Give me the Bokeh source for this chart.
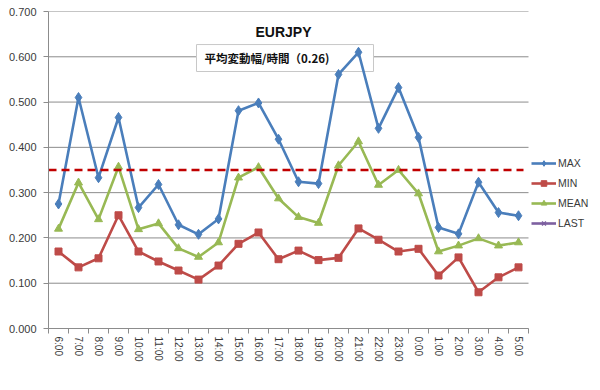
from bokeh.plotting import figure
from bokeh.models import (Range1d, FixedTicker, NumeralTickFormatter, Label,
                          Legend, LegendItem)
from bokeh.embed import file_html
from bokeh.resources import INLINE

# ---------------- data ----------------
hours = ["6:00", "7:00", "8:00", "9:00", "10:00", "11:00", "12:00", "13:00",
         "14:00", "15:00", "16:00", "17:00", "18:00", "19:00", "20:00", "21:00",
         "22:00", "23:00", "0:00", "1:00", "2:00", "3:00", "4:00", "5:00"]
max_vals = [0.275, 0.510, 0.333, 0.466, 0.267, 0.318, 0.229, 0.208,
            0.242, 0.481, 0.498, 0.418, 0.324, 0.320, 0.561, 0.610,
            0.442, 0.532, 0.422, 0.223, 0.209, 0.323, 0.256, 0.249]
min_vals = [0.170, 0.135, 0.155, 0.250, 0.170, 0.148, 0.128, 0.108,
            0.139, 0.187, 0.212, 0.153, 0.172, 0.151, 0.156, 0.221,
            0.196, 0.170, 0.176, 0.117, 0.157, 0.080, 0.113, 0.135]
mean_vals = [0.220, 0.322, 0.241, 0.357, 0.219, 0.232, 0.177, 0.158,
             0.190, 0.333, 0.356, 0.287, 0.246, 0.233, 0.360, 0.413,
             0.317, 0.350, 0.298, 0.170, 0.183, 0.199, 0.183, 0.190]
# LAST series has no values (blank cells) - it only appears in the legend
last_vals = [float("nan")] * len(hours)
threshold = 0.35
y_ticks = [0.0, 0.1, 0.2, 0.3, 0.4, 0.5, 0.6, 0.7]
chart_title = "EURJPY"
subtitle = "平均変動幅/時間（0.26)"

BLUE = "#4A7EBB"
RED = "#BE4B48"
GREEN = "#98B954"
PURPLE = "#7D60A0"
DASH_RED = "#C00000"
GRID = "#8C8C8C"
TEXT = "#3A3A3A"

n = len(hours)
# category slots: each hour occupies one unit, its centre at i + 0.5
xpos = [i + 0.5 for i in range(n)]

# the frame also holds the legend area to the right of the plot area
p = figure(width=592, height=382,
           x_range=Range1d(0, n * 544 / 480),
           y_range=Range1d(0, 0.7),
           output_backend="svg", toolbar_location=None,
           min_border_left=48, min_border_right=0,
           min_border_top=11, min_border_bottom=54)
p.outline_line_color = None
p.background_fill_color = "white"
p.border_fill_color = "white"

xaxis = p.xaxis[0]
xaxis.bounds = (0, n)
xaxis.ticker = FixedTicker(ticks=xpos, minor_ticks=list(range(n + 1)))
xaxis.major_label_overrides = {x: h for x, h in zip(xpos, hours)}
xaxis.major_label_orientation = "vertical"
xaxis.major_tick_line_color = None
xaxis.major_tick_out = 4
xaxis.major_tick_in = 0
xaxis.minor_tick_out = 5
xaxis.minor_tick_in = 0
xaxis.minor_tick_line_color = GRID
xaxis.axis_line_color = GRID
xaxis.major_label_standoff = 3
xaxis.major_label_text_font = "Liberation Sans"
xaxis.major_label_text_font_size = "10px"
xaxis.major_label_text_color = TEXT

p.yaxis.ticker = FixedTicker(ticks=y_ticks)
p.yaxis.formatter = NumeralTickFormatter(format="0.000")
p.yaxis.axis_line_color = GRID
p.yaxis.major_tick_line_color = GRID
p.yaxis.major_tick_out = 5
p.yaxis.major_tick_in = 0
p.yaxis.minor_tick_line_color = None
p.yaxis.major_label_standoff = 7
p.yaxis.major_label_text_font = "Liberation Sans"
p.yaxis.major_label_text_font_size = "11px"
p.yaxis.major_label_text_color = TEXT

# horizontal gridlines limited to the plot area
p.xgrid.visible = False
p.ygrid.visible = False
p.segment(x0=[0] * len(y_ticks), x1=[n] * len(y_ticks), y0=y_ticks, y1=y_ticks,
          line_color=GRID, line_width=1)

# subtitle box (behind the series)
p.quad(left=[7.4], right=[16.25], bottom=[0.5675], top=[0.627],
       fill_color="white", line_color="#C8C8C8", line_width=1)

r_max_l = p.line(xpos, max_vals, color=BLUE, line_width=2.6)
r_max_m = p.scatter(xpos, max_vals, marker="diamond", size=10, color=BLUE)
r_min_l = p.line(xpos, min_vals, color=RED, line_width=2.6)
r_min_m = p.scatter(xpos, min_vals, marker="square", size=7, color=RED)
r_mean_l = p.line(xpos, mean_vals, color=GREEN, line_width=2.6)
r_mean_m = p.scatter(xpos, mean_vals, marker="triangle", size=8, color=GREEN)
r_last_l = p.line(xpos, last_vals, color=PURPLE, line_width=2.6)
r_last_m = p.scatter(xpos, last_vals, marker="x", size=8,
                     line_color=PURPLE, line_width=1.5)

# threshold line
p.segment(x0=[0], x1=[n - 0.25], y0=[threshold], y1=[threshold],
          line_color=DASH_RED, line_width=2.5, line_dash="8 5")

p.add_layout(Label(x=11.75, y=0.6558, text=chart_title,
                   text_align="center", text_baseline="middle",
                   text_font="Liberation Sans", text_font_style="bold",
                   text_font_size="14px", text_color="#111111"))
p.add_layout(Label(x=7.8, y=0.5973, text=subtitle,
                   text_align="left", text_baseline="middle",
                   text_font="Noto Sans CJK JP", text_font_style="bold",
                   text_font_size="11.5px", text_color="#111111"))

legend = Legend(items=[
    LegendItem(label="MAX", renderers=[r_max_l, r_max_m]),
    LegendItem(label="MIN", renderers=[r_min_l, r_min_m]),
    LegendItem(label="MEAN", renderers=[r_mean_l, r_mean_m]),
    LegendItem(label="LAST", renderers=[r_last_l, r_last_m]),
], location=(483, 98))
legend.border_line_color = None
legend.background_fill_alpha = 0
legend.padding = 0
legend.margin = 0
legend.spacing = 6
legend.glyph_width = 25
legend.glyph_height = 14
legend.label_standoff = 2
legend.label_text_font = "Liberation Sans"
legend.label_text_font_size = "10.5px"
legend.label_text_color = TEXT
legend.label_height = 14
p.add_layout(legend, "center")

open("out.html", "w").write(file_html(p, INLINE))
